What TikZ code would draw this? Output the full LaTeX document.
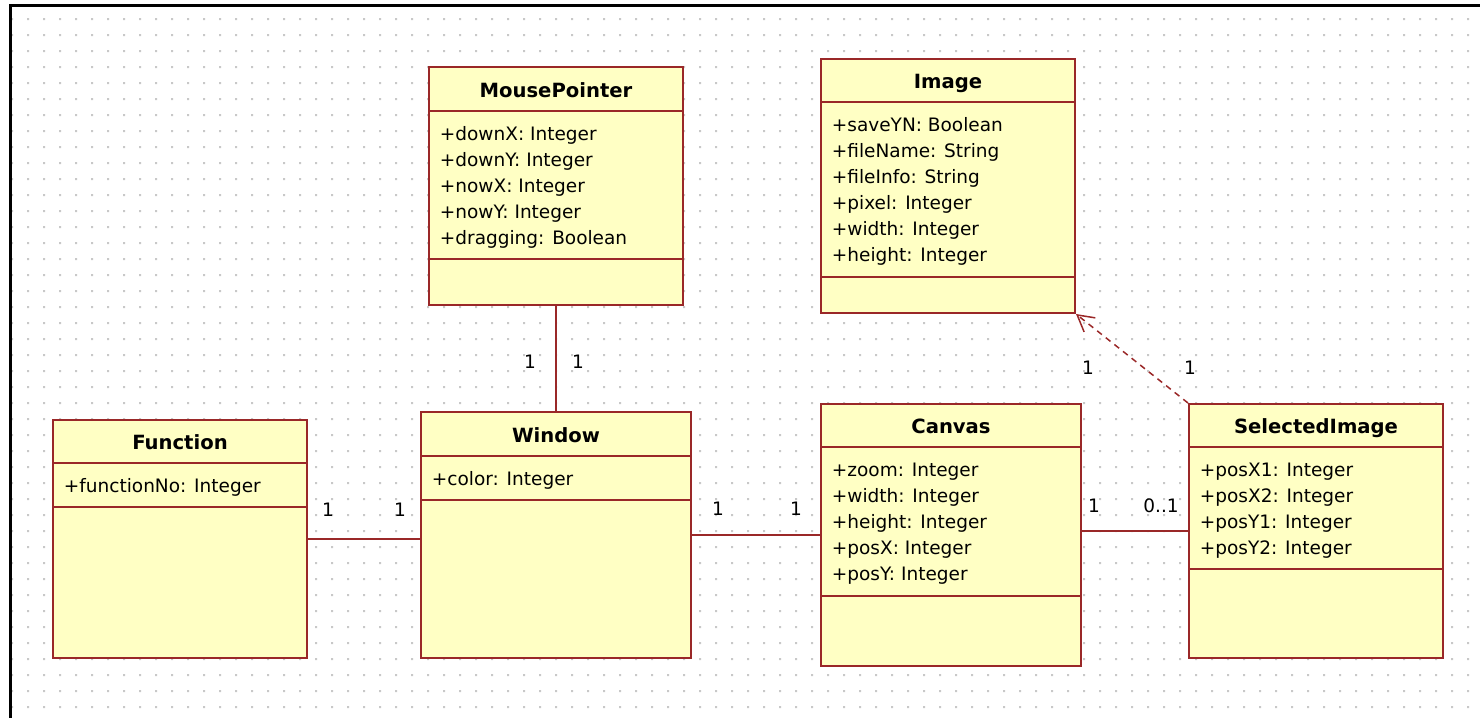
\documentclass[tikz,border=0pt]{standalone}
\usepackage{fontspec}
\setmainfont{DejaVu Sans}
\usetikzlibrary{arrows.meta,fit}
\definecolor{boxfill}{HTML}{FFFFC4}
\definecolor{boxline}{HTML}{9A2828}
\definecolor{griddot}{HTML}{C8C8C8}
\newcommand\umlbox[8]{%
  \node[cls, fit={(#2,#3)(#4,#5)}] (#1) {};
  \draw[sep] (#2,#6) -- (#4,#6);
  \draw[sep] (#2,#7) -- (#4,#7);
  \node[ttl] (#1-title) at ({(#2+#4)/2},{#6-14}) {#8};
}
\begin{document}
\begin{tikzpicture}[x=0.5pt,y=-0.5pt,
  cls/.style={draw=boxline, fill=boxfill, line width=1pt, inner sep=0pt},
  sep/.style={draw=boxline, line width=1pt},
  ttl/.style={font=\fontsize{9.8}{11}\selectfont\bfseries, anchor=base, inner sep=0pt},
  attr/.style={font=\fontsize{9.25}{11}\selectfont, anchor=base west, inner sep=0pt},
  mult/.style={font=\fontsize{9.25}{11}\selectfont, anchor=base, inner sep=0pt},
  assoc/.style={draw=boxline, line width=1pt},
  dep/.style={draw=boxline, line width=0.75pt, dash pattern=on 3pt off 2.5pt, -{Straight Barb[length=8pt,width=9pt]}}
]
\useasboundingbox (0,0) rectangle (1480,718);
% dotted grid
\fill[griddot] \foreach \i in {0,...,91} {\foreach \j in {0,...,43} {({11+16*\i},{18+16*\j}) rectangle ++(2,2)}};
% frame
\draw[line width=1.5pt] (1480,5) -- (10,5) -- (10,718);

% classes
\umlbox{mp}{429}{67}{683}{305}{111}{259}{MousePointer}
\foreach \t [count=\k] in {+downX: Integer,+downY: Integer,+nowX: Integer,+nowY: Integer,+dragging: Boolean}
  \node[attr] (mp-a\k) at (439.5,{140+26*(\k-1)}) {\t};

\umlbox{img}{821}{59}{1075}{313}{102}{277}{Image}
\foreach \t [count=\k] in {+saveYN: Boolean,+fileName: String,+fileInfo: String,+pixel: Integer,+width: Integer,+height: Integer}
  \node[attr] (img-a\k) at (831.5,{131+26*(\k-1)}) {\t};

\umlbox{fn}{53}{420}{307}{658}{463}{507}{Function}
\node[attr] (fn-a1) at (63.5,492) {+functionNo: Integer};

\umlbox{win}{421}{412}{691}{658}{456}{500}{Window}
\node[attr] (win-a1) at (431.5,485) {+color: Integer};

\umlbox{cv}{821}{404}{1081}{666}{447}{596}{Canvas}
\foreach \t [count=\k] in {+zoom: Integer,+width: Integer,+height: Integer,+posX: Integer,+posY: Integer}
  \node[attr] (cv-a\k) at (831.5,{476+26*(\k-1)}) {\t};

\umlbox{si}{1189}{404}{1443}{658}{447}{569}{SelectedImage}
\foreach \t [count=\k] in {+posX1: Integer,+posX2: Integer,+posY1: Integer,+posY2: Integer}
  \node[attr] (si-a\k) at (1199.5,{476+26*(\k-1)}) {\t};

% connectors
\draw[assoc] (mp.south) -- (mp.south |- win.north);
\draw[assoc] (fn.east) -- (fn.east -| win.west);
\draw[assoc] (win.east) -- (win.east -| cv.west);
\draw[assoc] (si.west) -- (si.west -| cv.east);
\draw[dep] (si.north west) -- (img.south east);

% multiplicities
\node[mult] (m1) at (530,368) {1};
\node[mult] (m2) at (578,368) {1};
\node[mult] (m3) at (328,516) {1};
\node[mult] (m4) at (400,516) {1};
\node[mult] (m5) at (718,515) {1};
\node[mult] (m6) at (796,515) {1};
\node[mult] (m7) at (1094,512) {1};
\node[mult] (m8) at (1161,512) {0..1};
\node[mult] (m9) at (1088,374) {1};
\node[mult] (m10) at (1190,374) {1};
\end{tikzpicture}
\end{document}
